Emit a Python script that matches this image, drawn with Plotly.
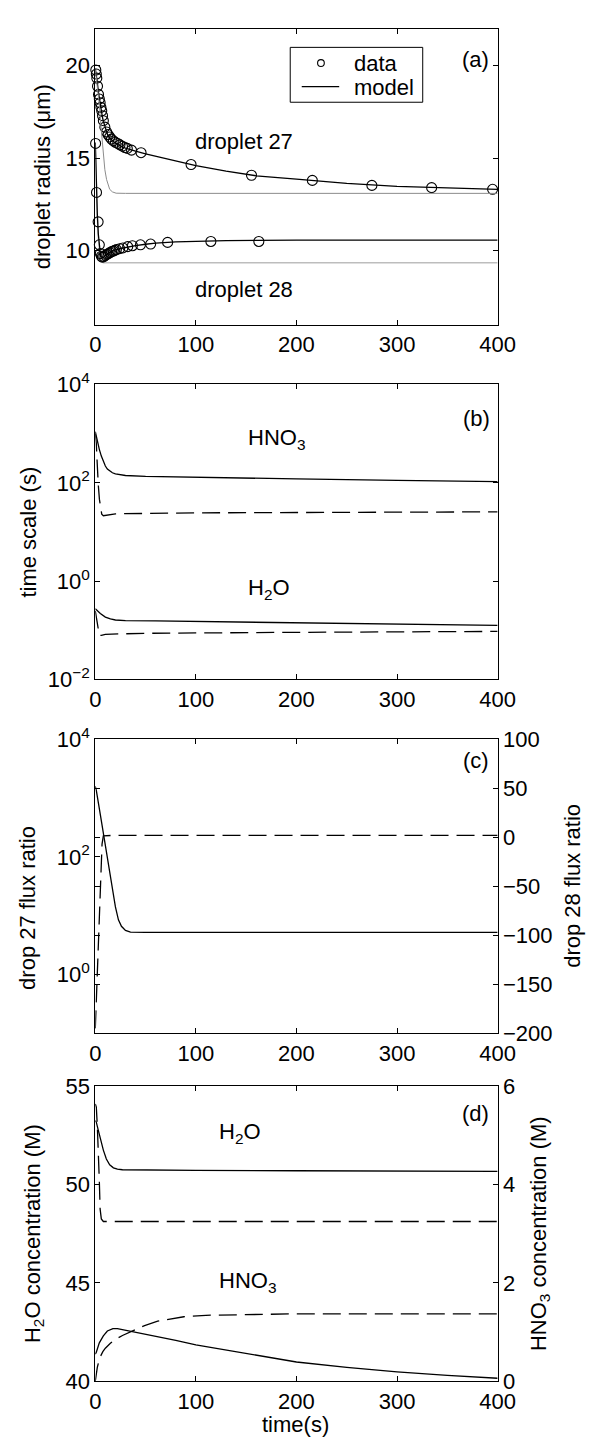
import plotly.graph_objects as go

W, H = 603, 1452
FONT = "Liberation Sans, Arial, Helvetica, sans-serif"
FS = 22

# ---------------- (a) droplet radius ----------------
t27_obs = [0.5, 1.0, 1.5, 2.2, 3.2, 4.0, 4.8, 5.6, 6.4, 7.2, 8.0, 9.5, 11.2, 12.7, 14.3,
           16.0, 18.0, 20.0, 22.3, 24.5, 27.0, 29.5, 31.8, 36.0, 45.5, 95.2, 155.3,
           215.8, 275.0, 334.4, 395.0]
r27_obs = [19.77, 19.55, 19.33, 18.89, 18.45, 18.2, 18.0, 17.75, 17.56, 17.3, 17.03,
           16.68, 16.42, 16.28, 16.15, 16.03, 15.94, 15.86, 15.8, 15.72, 15.65, 15.58,
           15.53, 15.44, 15.3, 14.66, 14.08, 13.80, 13.53, 13.41, 13.32]
t28_obs = [0.3, 1.2, 2.8, 4.0, 5.0, 6.0, 7.0, 8.5, 10.0, 11.5, 13.0, 14.6, 16.2, 17.8,
           19.4, 21.0, 24.2, 27.4, 32.2, 36.9, 44.9, 55.0, 71.9, 114.9, 162.6]
r28_obs = [15.8, 13.15, 11.56, 10.32, 9.85, 9.7, 9.65, 9.68, 9.75, 9.8, 9.85, 9.9, 9.95,
           9.98, 10.02, 10.06, 10.11, 10.15, 10.22, 10.27, 10.32, 10.36, 10.45, 10.5, 10.5]

t27_mod = [0, 1, 2, 3, 4, 5, 6, 7, 8, 10, 12, 14, 16, 18, 20, 25, 30, 35, 40, 50, 60,
           80, 100, 130, 160, 200, 250, 300, 350, 400]
r27_mod = [19.85, 19.55, 19.1, 18.6, 18.2, 17.85, 17.55, 17.25, 17.0, 16.6, 16.3, 16.1,
           15.98, 15.9, 15.83, 15.66, 15.55, 15.46, 15.38, 15.24, 15.12, 14.87, 14.6,
           14.3, 14.05, 13.87, 13.64, 13.48, 13.39, 13.32]
t27_eq = [0, 2, 4, 6, 8, 9.5, 11.2, 14.3, 17, 20.7, 30, 400]
r27_eq = [19.8, 19.0, 17.9, 16.5, 15.27, 14.38, 13.85, 13.32, 13.18, 13.11, 13.1, 13.1]

t28_mod = [0, 1, 2, 3, 4, 5, 6, 7, 8, 10, 12, 15, 20, 25, 30, 40, 50, 60, 80, 100, 130,
           160, 200, 400]
r28_mod = [15.85, 13.6, 12.0, 10.9, 10.2, 9.85, 9.68, 9.62, 9.64, 9.74, 9.83, 9.93, 10.05,
           10.12, 10.18, 10.28, 10.35, 10.41, 10.48, 10.52, 10.55, 10.56, 10.57, 10.57]
t28_eq = [0, 1, 2, 3, 4, 5, 6, 7, 8, 400]
r28_eq = [15.85, 13.5, 11.8, 10.6, 9.9, 9.55, 9.42, 9.37, 9.35, 9.35]

# ---------------- (b) time scales (s) ----------------
tb_hno3 = [0, 2, 4, 6, 8, 10, 12, 14, 17, 20, 25, 30, 50, 100, 200, 300, 400]
tau_hno3_27 = [1100, 710, 480, 350, 270, 220, 190, 175, 160, 152, 145, 141, 135, 129, 120,
               112, 106]
tb_hno3_d = [0, 1, 1.6, 2.2, 3, 4.1, 5, 6.4, 8, 20, 100, 200, 400]
tau_hno3_28 = [1000, 631, 331, 155, 89, 46, 32, 23, 21.4, 23.4, 24.5, 25.1, 25.7]
tb_h2o = [0, 1, 5, 10, 15, 20, 30, 60, 100, 200, 300, 400]
tau_h2o_27 = [0.275, 0.263, 0.219, 0.186, 0.170, 0.162, 0.158, 0.155, 0.151, 0.141, 0.132,
              0.126]
tb_h2o_d = [0, 1, 2, 3, 4, 6, 10, 50, 100, 200, 400]
tau_h2o_28 = [0.25, 0.18, 0.126, 0.089, 0.079, 0.079, 0.083, 0.087, 0.089, 0.091, 0.095]

# ---------------- (c) flux ratios ----------------
tc_27 = [0, 1, 5, 10, 15, 20, 23, 26, 30, 35, 50, 400]
flux_27 = [1585, 1349, 525, 158, 47.9, 14.1, 8.5, 6.6, 5.6, 5.25, 5.19, 5.19]
tc_28 = [0, 1, 2.2, 3.2, 4.1, 5.4, 6.7, 8, 20, 400]
flux_28 = [-195, -165, -135, -102, -69, -35, -7, 1.5, 2, 2]

# ---------------- (d) concentrations (M) ----------------
td_h2o = [0, 1, 3, 5, 8, 11, 14.3, 18, 22, 27, 40, 100, 200, 300, 400]
c_h2o_27 = [53.25, 53.17, 52.75, 52.3, 51.75, 51.3, 51.0, 50.85, 50.78, 50.75, 50.74,
            50.72, 50.7, 50.68, 50.67]
td_h2o_d = [0, 1, 2, 3.2, 4, 4.8, 6, 8, 400]
c_h2o_28 = [54.1, 53.93, 53.0, 51.75, 50.2, 48.75, 48.25, 48.12, 48.12]
td_hno3 = [0, 1, 4, 8, 12, 17.5, 22, 27, 35, 40, 59, 80, 100, 150, 200, 250, 300, 350, 400]
c_hno3_27 = [0.55, 0.59, 0.78, 0.92, 1.02, 1.07, 1.07, 1.05, 1.01, 0.99, 0.92, 0.83, 0.74,
             0.56, 0.39, 0.28, 0.19, 0.12, 0.06]
td_hno3_d = [0, 1, 2, 3.5, 5, 7.5, 10, 15, 20, 27, 35, 49, 62, 75, 88, 110, 150, 200, 400]
c_hno3_28 = [0, 0.15, 0.28, 0.4, 0.5, 0.6, 0.67, 0.77, 0.85, 0.93, 1.0, 1.13, 1.22, 1.27,
             1.31, 1.34, 1.36, 1.37, 1.37]

x_ticks = [0, 100, 200, 300, 400]


def fx(px):
    return px / W


def fy(px):
    return 1 - px / H


X0, X1 = 93, 512
dom = {"a": (13, 315), "b": (376, 677), "c": (738, 1038), "d": (1092, 1393)}

SOLID = dict(color="black", width=1.3)
DASH = dict(color="black", width=1.3, dash="18px,8px")
CIRCLE = dict(symbol="circle-open", size=10, color="black",
              line=dict(width=1.1, color="black"))

fig = go.Figure()

# (a)
fig.add_trace(go.Scatter(x=t27_obs, y=r27_obs, mode="markers", marker=CIRCLE,
                         cliponaxis=False, xaxis="x", yaxis="y"))
fig.add_trace(go.Scatter(x=t27_mod, y=r27_mod, mode="lines", line=SOLID,
                         xaxis="x", yaxis="y"))
fig.add_trace(go.Scatter(x=t27_eq, y=r27_eq, mode="lines",
                         line=dict(color="#8c8c8c", width=1), xaxis="x", yaxis="y"))
fig.add_trace(go.Scatter(x=t28_eq, y=r28_eq, mode="lines",
                         line=dict(color="#bdbdbd", width=1.3), xaxis="x", yaxis="y"))
fig.add_trace(go.Scatter(x=t28_mod, y=r28_mod, mode="lines", line=SOLID,
                         xaxis="x", yaxis="y"))
fig.add_trace(go.Scatter(x=t28_obs, y=r28_obs, mode="markers", marker=CIRCLE,
                         cliponaxis=False, xaxis="x", yaxis="y"))

# (b)
for xs, ys, ln in [(tb_hno3, tau_hno3_27, SOLID), (tb_hno3_d, tau_hno3_28, DASH),
                   (tb_h2o, tau_h2o_27, SOLID), (tb_h2o_d, tau_h2o_28, DASH)]:
    fig.add_trace(go.Scatter(x=xs, y=ys, mode="lines", line=ln, xaxis="x2", yaxis="y2"))

# (c)
fig.add_trace(go.Scatter(x=tc_27, y=flux_27, mode="lines", line=SOLID,
                         xaxis="x3", yaxis="y3"))
fig.add_trace(go.Scatter(x=tc_28, y=flux_28, mode="lines", line=DASH,
                         xaxis="x3", yaxis="y5"))

# (d)
fig.add_trace(go.Scatter(x=td_h2o, y=c_h2o_27, mode="lines", line=SOLID,
                         xaxis="x4", yaxis="y4"))
fig.add_trace(go.Scatter(x=td_h2o_d, y=c_h2o_28, mode="lines", line=DASH,
                         xaxis="x4", yaxis="y4"))
fig.add_trace(go.Scatter(x=td_hno3, y=c_hno3_27, mode="lines", line=SOLID,
                         xaxis="x4", yaxis="y6"))
fig.add_trace(go.Scatter(x=td_hno3_d, y=c_hno3_28, mode="lines", line=DASH,
                         xaxis="x4", yaxis="y6"))

tickfont = dict(family=FONT, size=FS, color="black")
base = dict(showline=True, linecolor="black", linewidth=1, ticks="inside", ticklen=5,
            tickcolor="black", tickwidth=1, showgrid=False, zeroline=False,
            tickfont=tickfont)


def xax(anchor):
    return dict(base, domain=[fx(X0), fx(X1)], range=[0, 400], tickvals=x_ticks,
                mirror="ticks", anchor=anchor)


def ydom(key):
    top, bot = dom[key]
    return [fy(bot), fy(top)]


layout = dict(
    width=W, height=H, margin=dict(l=0, r=0, t=0, b=0),
    paper_bgcolor="white", plot_bgcolor="white",
    font=dict(family=FONT, size=FS, color="black"),
    showlegend=False,
    xaxis=xax("y"), xaxis2=xax("y2"), xaxis3=xax("y3"), xaxis4=xax("y4"),
    yaxis=dict(base, domain=ydom("a"), range=[6, 22], tickvals=[10, 15, 20],
               mirror="ticks", anchor="x"),
    yaxis2=dict(base, domain=ydom("b"), type="log", range=[-2, 4],
                tickvals=[0.01, 1, 100, 10000],
                ticktext=["10<sup>−2</sup>", "10<sup>0</sup>", "10<sup>2</sup>",
                          "10<sup>4</sup>"],
                mirror="ticks", anchor="x2"),
    yaxis3=dict(base, domain=ydom("c"), type="log", range=[-1, 4],
                tickvals=[1, 100, 10000],
                ticktext=["10<sup>0</sup>", "10<sup>2</sup>", "10<sup>4</sup>"],
                mirror=False, anchor="x3"),
    yaxis5=dict(base, domain=ydom("c"), range=[-200, 100],
                tickvals=[-200, -150, -100, -50, 0, 50, 100],
                overlaying="y3", side="right", mirror="ticks", anchor="x3"),
    yaxis4=dict(base, domain=ydom("d"), range=[40, 55], tickvals=[40, 45, 50, 55],
                mirror=False, anchor="x4"),
    yaxis6=dict(base, domain=ydom("d"), range=[0, 6], tickvals=[0, 2, 4, 6],
                overlaying="y4", side="right", mirror="ticks", anchor="x4"),
)
fig.update_layout(**layout)


def note(text, x, y, angle=0, xanchor="center", size=FS):
    fig.add_annotation(text=text, x=fx(x), y=fy(y), xref="paper", yref="paper",
                       showarrow=False, textangle=angle, xanchor=xanchor, yanchor="middle",
                       font=dict(family=FONT, size=size, color="black"))


# legend box for panel (a)
fig.add_shape(type="rect", xref="paper", yref="paper", x0=fx(296), x1=fx(434),
              y0=fy(88), y1=fy(32), line=dict(color="black", width=1), fillcolor="white",
              layer="above")
fig.add_shape(type="circle", xref="paper", yref="paper", x0=fx(324.5), x1=fx(331.5),
              y0=fy(51.5), y1=fy(44.5), line=dict(color="black", width=1.1),
              layer="above")
fig.add_shape(type="line", xref="paper", yref="paper", x0=fx(308), x1=fx(347),
              y0=fy(72), y1=fy(72), line=dict(color="black", width=1.3), layer="above")
note("data", 360, 48, xanchor="left")
note("model", 360, 73, xanchor="left")

# panel labels and curve labels
note("(a)", 489, 44)
note("droplet 27", 248, 128)
note("droplet 28", 248, 279)
note("(b)", 490, 411)
note("HNO<sub>3</sub>", 250, 432, xanchor="left")
note("H<sub>2</sub>O", 250, 585, xanchor="left")
note("(c)", 489, 760)
note("(d)", 489, 1120)
note("H<sub>2</sub>O", 220, 1140, xanchor="left")
note("HNO<sub>3</sub>", 220, 1292, xanchor="left")

# axis titles
note("droplet radius (μm)", 38, 164, angle=-90)
note("time scale (s)", 23, 527, angle=-90)
note("drop 27 flux ratio", 23, 910, angle=-90)
note("drop 28 flux ratio", 590, 888, angle=-90)
note("H<sub>2</sub>O concentration (M)", 29, 1242, angle=-90)
note("HNO<sub>3</sub> concentration (M)", 556, 1242, angle=-90)
note("time(s)", 302, 1437)

# page tweak: no body margin around the figure
page_js = ("document.body.style.margin='0';document.body.style.padding='0';"
           "document.documentElement.style.overflow='hidden';")
fig.write_html("out.html", post_script=page_js)
